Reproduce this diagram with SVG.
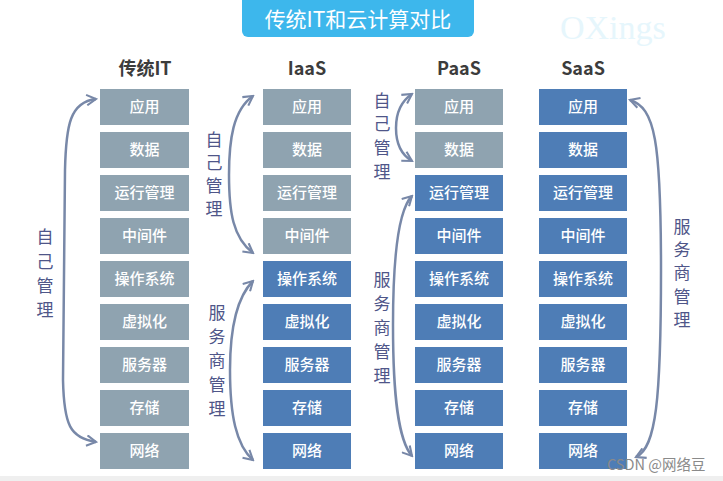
<svg xmlns="http://www.w3.org/2000/svg" width="723" height="481" viewBox="0 0 723 481">
<defs>
<style>
.g{fill:#8fa3b0}
.b{fill:#4e7db6}
.bt{font-family:"Noto Sans CJK SC","Noto Sans",sans-serif;font-size:15px;font-weight:500;fill:#ffffff;text-anchor:middle}
.hd{font-family:"Noto Sans CJK SC","Liberation Sans",sans-serif;font-size:18px;font-weight:bold;fill:#3c3c3c;text-anchor:middle}
.vl{font-family:"Noto Sans CJK SC",sans-serif;font-size:17px;fill:#4f5689;text-anchor:middle}
.ar{fill:none;stroke:#7888a8;stroke-width:2.5;marker-start:url(#ah);marker-end:url(#ah)}
</style>
<marker id="ah" viewBox="0 0 12 12" refX="10" refY="6" markerWidth="5" markerHeight="5" orient="auto-start-reverse" markerUnits="strokeWidth">
<path d="M1,1 L10,6 L1,11" fill="none" stroke="#7888a8" stroke-width="2"/>
</marker>
</defs>
<rect width="723" height="481" fill="#ffffff"/>
<rect x="0" y="476" width="723" height="5" fill="#efefef"/>
<text x="560" y="39" font-family="Liberation Serif,serif" font-size="34" fill="#e6f6fc">OXings</text>
<g id="title">
<rect x="242" y="-6" width="232" height="43" rx="6" fill="#3db7ec"/>
<text x="358" y="27" font-family="Noto Sans CJK SC,sans-serif" font-size="21" fill="#ffffff" text-anchor="middle">传统IT和云计算对比</text>
</g>
<g id="headers">
<text class="hd" x="145" y="75">传统IT</text>
<text class="hd" x="307" y="75">IaaS</text>
<text class="hd" x="459" y="75">PaaS</text>
<text class="hd" x="583" y="75">SaaS</text>
</g>
<g id="col-it">
<rect class="g" x="100" y="89" width="89" height="36"/><text class="bt" x="144.5" y="112">应用</text>
<rect class="g" x="100" y="132" width="89" height="36"/><text class="bt" x="144.5" y="155">数据</text>
<rect class="g" x="100" y="175" width="89" height="36"/><text class="bt" x="144.5" y="198">运行管理</text>
<rect class="g" x="100" y="218" width="89" height="36"/><text class="bt" x="144.5" y="241">中间件</text>
<rect class="g" x="100" y="261" width="89" height="36"/><text class="bt" x="144.5" y="284">操作系统</text>
<rect class="g" x="100" y="304" width="89" height="36"/><text class="bt" x="144.5" y="327">虚拟化</text>
<rect class="g" x="100" y="347" width="89" height="36"/><text class="bt" x="144.5" y="370">服务器</text>
<rect class="g" x="100" y="390" width="89" height="36"/><text class="bt" x="144.5" y="413">存储</text>
<rect class="g" x="100" y="433" width="89" height="36"/><text class="bt" x="144.5" y="456">网络</text>
</g>
<g id="col-iaas">
<rect class="g" x="263" y="89" width="88" height="36"/><text class="bt" x="307" y="112">应用</text>
<rect class="g" x="263" y="132" width="88" height="36"/><text class="bt" x="307" y="155">数据</text>
<rect class="g" x="263" y="175" width="88" height="36"/><text class="bt" x="307" y="198">运行管理</text>
<rect class="g" x="263" y="218" width="88" height="36"/><text class="bt" x="307" y="241">中间件</text>
<rect class="b" x="263" y="261" width="88" height="36"/><text class="bt" x="307" y="284">操作系统</text>
<rect class="b" x="263" y="304" width="88" height="36"/><text class="bt" x="307" y="327">虚拟化</text>
<rect class="b" x="263" y="347" width="88" height="36"/><text class="bt" x="307" y="370">服务器</text>
<rect class="b" x="263" y="390" width="88" height="36"/><text class="bt" x="307" y="413">存储</text>
<rect class="b" x="263" y="433" width="88" height="36"/><text class="bt" x="307" y="456">网络</text>
</g>
<g id="col-paas">
<rect class="g" x="415" y="89" width="88" height="36"/><text class="bt" x="459" y="112">应用</text>
<rect class="g" x="415" y="132" width="88" height="36"/><text class="bt" x="459" y="155">数据</text>
<rect class="b" x="415" y="175" width="88" height="36"/><text class="bt" x="459" y="198">运行管理</text>
<rect class="b" x="415" y="218" width="88" height="36"/><text class="bt" x="459" y="241">中间件</text>
<rect class="b" x="415" y="261" width="88" height="36"/><text class="bt" x="459" y="284">操作系统</text>
<rect class="b" x="415" y="304" width="88" height="36"/><text class="bt" x="459" y="327">虚拟化</text>
<rect class="b" x="415" y="347" width="88" height="36"/><text class="bt" x="459" y="370">服务器</text>
<rect class="b" x="415" y="390" width="88" height="36"/><text class="bt" x="459" y="413">存储</text>
<rect class="b" x="415" y="433" width="88" height="36"/><text class="bt" x="459" y="456">网络</text>
</g>
<g id="col-saas">
<rect class="b" x="539" y="89" width="88" height="36"/><text class="bt" x="583" y="112">应用</text>
<rect class="b" x="539" y="132" width="88" height="36"/><text class="bt" x="583" y="155">数据</text>
<rect class="b" x="539" y="175" width="88" height="36"/><text class="bt" x="583" y="198">运行管理</text>
<rect class="b" x="539" y="218" width="88" height="36"/><text class="bt" x="583" y="241">中间件</text>
<rect class="b" x="539" y="261" width="88" height="36"/><text class="bt" x="583" y="284">操作系统</text>
<rect class="b" x="539" y="304" width="88" height="36"/><text class="bt" x="583" y="327">虚拟化</text>
<rect class="b" x="539" y="347" width="88" height="36"/><text class="bt" x="583" y="370">服务器</text>
<rect class="b" x="539" y="390" width="88" height="36"/><text class="bt" x="583" y="413">存储</text>
<rect class="b" x="539" y="433" width="88" height="36"/><text class="bt" x="583" y="456">网络</text>
</g>
<g id="connectors">
<path class="ar" d="M96,99 C70,102 66,125 65,170 L63,380 C64,425 70,438 96,442"/>
<path class="ar" d="M253,96 C233,110 229,140 229,175 C229,212 233,238 253,253"/>
<path class="ar" d="M253,281 C236,298 230,330 230,370 C230,415 236,445 253,460"/>
<path class="ar" d="M412,94 C400,102 396,115 396,128 C396,141 400,154 412,161"/>
<path class="ar" d="M412,196 C398,210 393,260 393,325 C393,395 398,440 412,456"/>
<path class="ar" d="M630,100 C655,108 661,140 661,270 C661,400 656,448 636,457"/>
</g>
<g id="labels">
<text class="vl" x="45"><tspan x="45" y="243">自</tspan><tspan x="45" y="268">己</tspan><tspan x="45" y="292">管</tspan><tspan x="45" y="316">理</tspan></text>
<text class="vl" x="214"><tspan x="214" y="146">自</tspan><tspan x="214" y="169">己</tspan><tspan x="214" y="192">管</tspan><tspan x="214" y="215">理</tspan></text>
<text class="vl" x="217"><tspan x="217" y="319">服</tspan><tspan x="217" y="343">务</tspan><tspan x="217" y="367">商</tspan><tspan x="217" y="391">管</tspan><tspan x="217" y="415">理</tspan></text>
<text class="vl" x="382"><tspan x="382" y="107">自</tspan><tspan x="382" y="130">己</tspan><tspan x="382" y="154">管</tspan><tspan x="382" y="178">理</tspan></text>
<text class="vl" x="382"><tspan x="382" y="286">服</tspan><tspan x="382" y="310">务</tspan><tspan x="382" y="334">商</tspan><tspan x="382" y="358">管</tspan><tspan x="382" y="382">理</tspan></text>
<text class="vl" x="682"><tspan x="682" y="233">服</tspan><tspan x="682" y="256">务</tspan><tspan x="682" y="279">商</tspan><tspan x="682" y="303">管</tspan><tspan x="682" y="326">理</tspan></text>
</g>
<text x="607" y="470" font-family="Noto Sans CJK SC,sans-serif" font-size="14.5" fill="#8a8a8a">CSDN @网络豆</text>
</svg>
